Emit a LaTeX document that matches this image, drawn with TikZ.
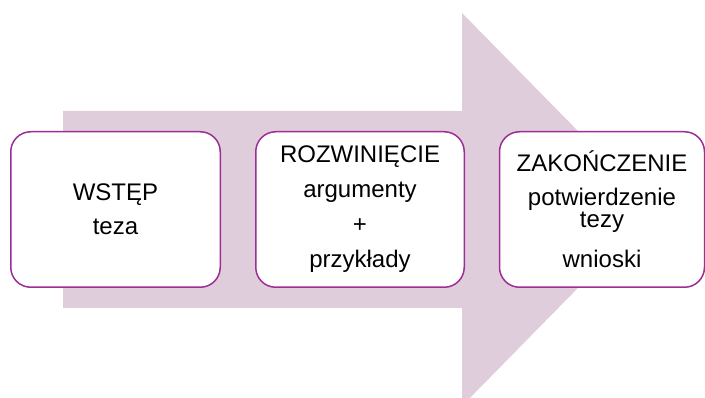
\documentclass[tikz,border=0pt]{standalone}
\usepackage{fontspec}
\setmainfont{Liberation Sans}
\definecolor{ramka}{HTML}{9B2F96}
\definecolor{strzalka}{HTML}{DFCDDC}
\tikzset{etap/.style={draw=ramka, line width=1.5pt, fill=white, rounded corners=20pt,
    minimum height=155.5pt, align=center, font=\fontsize{24}{24}\selectfont}}

\begin{document}
\begin{tikzpicture}[x=1pt,y=-1pt]
        \clip (0,0) rectangle (705,398);
        % strzalka w tle
        \fill[strzalka] (63,111) -- (462,111) -- (462,13) -- (655,209.5)
            -- (462,406) -- (462,308) -- (63,308) -- cycle;
        % etapy
        \node[etap, minimum width=209.5pt] (wstep) at (115.5,209.5) {WSTĘP\\[10pt]teza};
        \node[etap, minimum width=208.5pt] (rozw) at (360,209.5) {ROZWINIĘCIE\\[11pt]argumenty\\[11pt]+\\[11pt]przykłady};
        \node[etap, minimum width=205pt] (zak) at (602,209.5) {ZAKOŃCZENIE\\[10pt]potwierdzenie\\[-2pt]tezy\\[16pt]wnioski};
      \end{tikzpicture}
\end{document}
